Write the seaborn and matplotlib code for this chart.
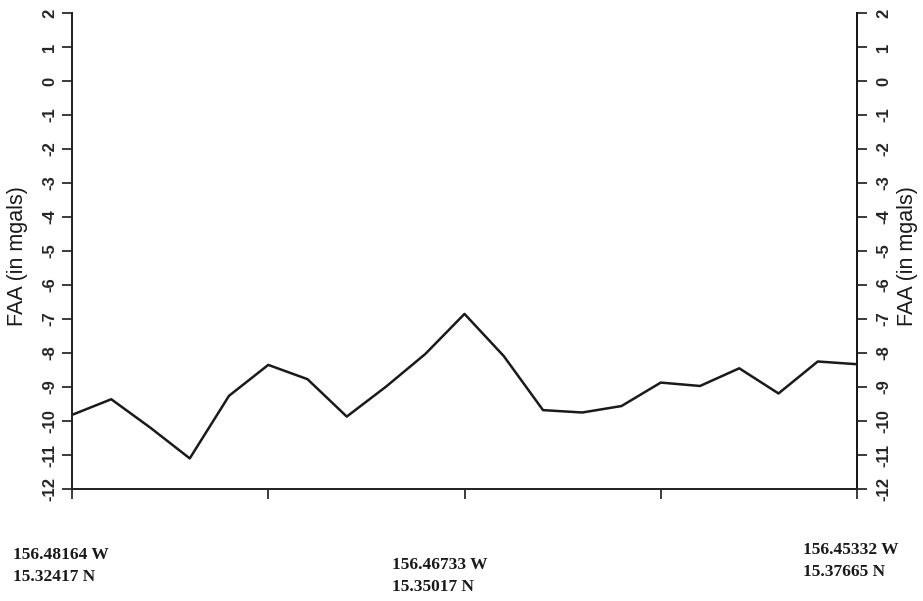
import matplotlib
matplotlib.use("Agg")
import matplotlib.pyplot as plt
import seaborn as sns
import pandas as pd

faa = [-9.82, -9.36, -10.2, -11.1, -9.26, -8.35, -8.77, -9.87, -8.99, -8.03,
       -6.85, -8.09, -9.68, -9.75, -9.56, -8.87, -8.97, -8.45, -9.19, -8.25, -8.33]
station = list(range(len(faa)))
yticks = list(range(-12, 3))
pos_labels = [("156.48164 W\n15.32417 N", 13, 566),
              ("156.46733 W\n15.35017 N", 392, 576),
              ("156.45332 W\n15.37665 N", 803, 561)]

sns.set_theme(style="white")
plt.rcParams['font.family'] = ['Liberation Sans', 'DejaVu Sans']

W, H = 923, 601
fig = plt.figure(figsize=(W / 100, H / 100), dpi=100)
ax = fig.add_axes([72 / W, 1 - 489 / H, (857 - 72) / W, (489 - 13) / H])
df = pd.DataFrame({"station": station, "faa": faa})
sns.lineplot(data=df, x="station", y="faa", ax=ax, color="#1a1a1a", linewidth=1.8)

ax.set_xlim(0, 20)
ax.set_ylim(-12, 2)
ax.set_xticks([0, 5, 10, 15, 20])
ax.set_xticklabels([])
ax.set_xlabel("")
ax.set_ylabel("")
ax.set_yticks(yticks)
ax.set_yticklabels([str(v) for v in yticks], rotation=90, va="center",
                   fontsize=12, fontweight="bold")
ax.spines["top"].set_visible(False)
for s in ["left", "right", "bottom"]:
    ax.spines[s].set_color("#1a1a1a")
    ax.spines[s].set_linewidth(1.4)
ax.tick_params(axis="both", direction="out", length=7, width=1.2, color="#1a1a1a",
               left=True, bottom=True, pad=3.5)

ax2 = ax.twinx()
ax2.set_ylim(-12, 2)
ax2.set_yticks(yticks)
ax2.set_yticklabels([str(v) for v in yticks], rotation=90, va="center",
                    fontsize=12, fontweight="bold")
ax2.spines["top"].set_visible(False)
ax2.spines["right"].set_color("#1a1a1a")
ax2.spines["right"].set_linewidth(1.4)
ax2.tick_params(axis="y", direction="out", length=7, width=1.2, color="#1a1a1a",
                right=True, pad=7)

for xc in (18, 908):
    fig.text(xc / W, 1 - 256 / H, "FAA (in mgals)", rotation=90, ha="center",
             va="center", fontsize=15.5, color="#1a1a1a")

for txt, x, y in pos_labels:
    fig.text(x / W, 1 - y / H, txt, ha="left", va="center", fontsize=12.5,
             fontweight="bold", family=["Liberation Serif", "DejaVu Serif"],
             linespacing=1.45, color="#1a1a1a")

fig.savefig("out.png", dpi=100, facecolor="white")
